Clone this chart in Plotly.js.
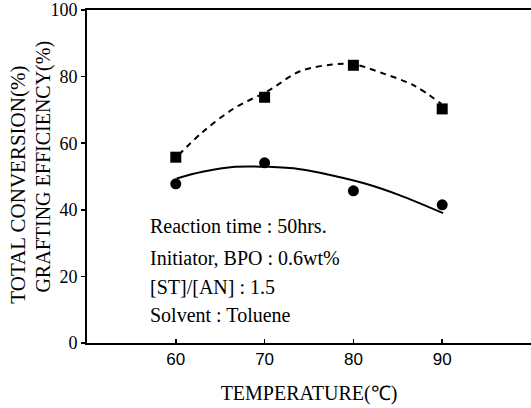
<!DOCTYPE html>
<html>
<head>
<meta charset="utf-8">
<script src="https://cdn.plot.ly/plotly-3.0.1.min.js"></script>
<style>html,body{margin:0;padding:0;background:#fff;}#chart{width:531px;height:408px;}</style>
</head>
<body>
<div id="chart"></div>
<script>
// Measured data points
const temperature = [60, 70, 80, 90];
const totalConversion = [55.8, 73.8, 83.4, 70.3];   // squares
const graftingEfficiency = [47.8, 54.1, 45.7, 41.5]; // circles

// Fitted curves
const dashCurveX = [60.3, 63.0, 66.7, 70.4, 74.0, 77.6, 80.0, 83.2, 86.9, 89.9];
const dashCurveY = [56.4, 63.3, 70.7, 75.7, 81.6, 83.6, 83.7, 81.1, 77.2, 71.8];
const solidCurveX = [60.1, 63.0, 66.7, 70.4, 74.0, 77.5, 81.3, 85.1, 90.1];
const solidCurveY = [49.4, 51.4, 52.9, 52.9, 52.2, 50.4, 47.9, 44.5, 39.0];

const xTicks = [60, 70, 80, 90];
const yTicks = [0, 20, 40, 60, 80, 100];

const conditions = [
  "Reaction time : 50hrs.",
  "Initiator, BPO : 0.6wt%",
  "[ST]/[AN] : 1.5",
  "Solvent : Toluene"
];
const conditionY = [0.351, 0.256, 0.167, 0.083];

const serif = "Liberation Serif, Times New Roman, serif";

const traces = [
  {x: dashCurveX, y: dashCurveY, mode: "lines", line: {color: "#000", width: 2, dash: "6px,5px", shape: "spline"}, hoverinfo: "skip", showlegend: false},
  {x: solidCurveX, y: solidCurveY, mode: "lines", line: {color: "#000", width: 2, shape: "spline"}, hoverinfo: "skip", showlegend: false},
  {x: temperature, y: totalConversion, mode: "markers", marker: {symbol: "square", size: 11, color: "#000"}, name: "Total conversion", showlegend: false},
  {x: temperature, y: graftingEfficiency, mode: "markers", marker: {symbol: "circle", size: 11, color: "#000"}, name: "Grafting efficiency", showlegend: false}
];

const annotations = conditions.map((t, i) => ({
  text: t, xref: "paper", yref: "paper", x: 0.137, y: conditionY[i],
  xanchor: "left", yanchor: "middle", showarrow: false,
  font: {family: serif, size: 20, color: "#000"}
}));
annotations.push({
  text: "TOTAL CONVERSION(%)", xref: "paper", yref: "paper", x: -0.155, xanchor: "center",
  y: (343 - 184) / 334, yanchor: "middle", textangle: -90, showarrow: false,
  font: {family: serif, size: 21, color: "#000"}
});
annotations.push({
  text: "GRAFTING EFFICIENCY(%)", xref: "paper", yref: "paper", x: -0.099, xanchor: "center",
  y: (343 - 166) / 334, yanchor: "middle", textangle: -90, showarrow: false,
  font: {family: serif, size: 20, color: "#000"}
});

const layout = {
  width: 531, height: 408,
  margin: {l: 87, r: 0, t: 10, b: 65},
  paper_bgcolor: "#fff", plot_bgcolor: "#fff",
  showlegend: false,
  xaxis: {
    range: [50, 100], tickvals: xTicks, ticktext: xTicks.map(String),
    ticks: "inside", ticklen: 4, tickwidth: 1.5, tickcolor: "#000",
    showline: true, linecolor: "#000", linewidth: 2, mirror: true,
    showgrid: false, zeroline: false,
    tickfont: {family: "Liberation Sans, Arial, sans-serif", size: 17, color: "#000"},
    title: {text: "TEMPERATURE(℃)", font: {family: serif, size: 20, color: "#000"}, standoff: 18}
  },
  yaxis: {
    range: [0, 100], tickvals: yTicks, ticktext: yTicks.map(String),
    ticks: "outside", ticklen: 4, tickwidth: 1.5, tickcolor: "#000",
    showline: true, linecolor: "#000", linewidth: 2, mirror: false,
    showgrid: false, zeroline: false, ticklabeloverflow: "allow",
    tickfont: {family: serif, size: 18, color: "#000"}
  },
  annotations: annotations
};

Plotly.newPlot("chart", traces, layout, {staticPlot: true, displayModeBar: false});
</script>
</body>
</html>
